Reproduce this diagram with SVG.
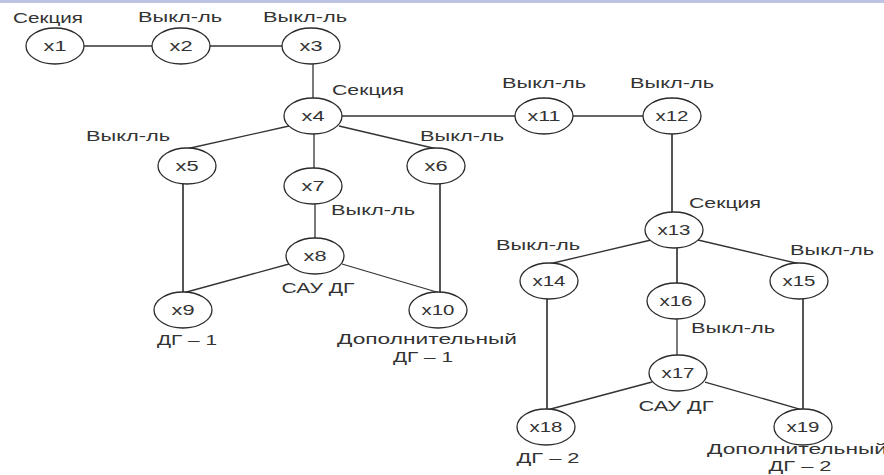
<svg xmlns="http://www.w3.org/2000/svg" width="884" height="475" viewBox="0 0 884 475">
  <style>
    text { font-family: "Liberation Sans", Arial, sans-serif; font-size: 14px; fill: #333; text-anchor: middle; }
    .node ellipse { fill: #fff; stroke: #2b2b2b; stroke-width: 1.3; }
    .wire { stroke: #333; stroke-width: 1.3; fill: none; }
    .bus { stroke: #555; stroke-width: 2; fill: none; }
  </style>
  <rect x="0" y="0" width="884" height="475" fill="#fff"/>
  <rect x="0" y="0" width="884" height="3" fill="#bfc3e3"/>

  <g id="connectors">
    <line class="wire" x1="84" y1="46" x2="152" y2="46"/>
    <line class="wire" x1="210" y1="46" x2="282" y2="46"/>
    <line class="wire" x1="313" y1="64" x2="313" y2="98"/>
    <line class="wire" x1="342" y1="116" x2="515" y2="116"/>
    <line class="wire" x1="573" y1="116" x2="643" y2="116"/>
    <line class="wire" x1="289" y1="126" x2="186" y2="149"/>
    <line class="wire" x1="339" y1="126" x2="437" y2="149"/>
    <line class="wire" x1="314" y1="134" x2="314" y2="168"/>
    <line class="wire" x1="315" y1="204" x2="315" y2="238"/>
    <line class="bus" x1="183" y1="183" x2="183" y2="293"/>
    <line class="bus" x1="440" y1="183" x2="440" y2="293"/>
    <line class="wire" x1="289" y1="264" x2="183" y2="293"/>
    <line class="wire" x1="342" y1="264" x2="440" y2="293"/>
    <line class="bus" x1="672" y1="134" x2="672" y2="212"/>
    <line class="wire" x1="651" y1="240" x2="549" y2="264"/>
    <line class="wire" x1="698" y1="240" x2="800" y2="264"/>
    <line class="bus" x1="677" y1="248" x2="677" y2="284"/>
    <line class="wire" x1="677" y1="319" x2="677" y2="356"/>
    <line class="bus" x1="547" y1="299" x2="547" y2="410"/>
    <line class="bus" x1="803" y1="299" x2="803" y2="410"/>
    <line class="wire" x1="652" y1="382" x2="547" y2="410"/>
    <line class="wire" x1="705" y1="382" x2="803" y2="410"/>
  </g>

  <g id="n1" class="node"><ellipse cx="55" cy="46" rx="29" ry="18"/><text x="55" y="51" textLength="23" lengthAdjust="spacingAndGlyphs">x1</text><text x="48" y="23" textLength="70" lengthAdjust="spacingAndGlyphs">Секция</text></g>
  <g id="n2" class="node"><ellipse cx="181" cy="46" rx="29" ry="18"/><text x="181" y="51" textLength="23" lengthAdjust="spacingAndGlyphs">x2</text><text x="180" y="22" textLength="84" lengthAdjust="spacingAndGlyphs">Выкл-ль</text></g>
  <g id="n3" class="node"><ellipse cx="311" cy="46" rx="29" ry="18"/><text x="311" y="51" textLength="23" lengthAdjust="spacingAndGlyphs">x3</text><text x="305" y="22" textLength="84" lengthAdjust="spacingAndGlyphs">Выкл-ль</text></g>
  <g id="n4" class="node"><ellipse cx="313" cy="116" rx="29" ry="18"/><text x="313" y="121" textLength="23" lengthAdjust="spacingAndGlyphs">x4</text><text x="368" y="95" textLength="72" lengthAdjust="spacingAndGlyphs">Секция</text></g>
  <g id="n5" class="node"><ellipse cx="187" cy="166" rx="29" ry="18"/><text x="187" y="171" textLength="23" lengthAdjust="spacingAndGlyphs">x5</text><text x="128" y="141" textLength="84" lengthAdjust="spacingAndGlyphs">Выкл-ль</text></g>
  <g id="n6" class="node"><ellipse cx="436" cy="166" rx="29" ry="18"/><text x="436" y="171" textLength="23" lengthAdjust="spacingAndGlyphs">x6</text><text x="462" y="141" textLength="84" lengthAdjust="spacingAndGlyphs">Выкл-ль</text></g>
  <g id="n7" class="node"><ellipse cx="313" cy="186" rx="29" ry="18"/><text x="313" y="191" textLength="23" lengthAdjust="spacingAndGlyphs">x7</text><text x="373" y="215" textLength="84" lengthAdjust="spacingAndGlyphs">Выкл-ль</text></g>
  <g id="n8" class="node"><ellipse cx="315" cy="256" rx="29" ry="18"/><text x="315" y="261" textLength="23" lengthAdjust="spacingAndGlyphs">x8</text><text x="318" y="293" textLength="73" lengthAdjust="spacingAndGlyphs">САУ ДГ</text></g>
  <g id="n9" class="node"><ellipse cx="183" cy="310" rx="29" ry="18"/><text x="183" y="315" textLength="23" lengthAdjust="spacingAndGlyphs">x9</text><text x="187" y="345" textLength="60" lengthAdjust="spacingAndGlyphs">ДГ – 1</text></g>
  <g id="n10" class="node"><ellipse cx="438" cy="310" rx="29" ry="18"/><text x="438" y="315" textLength="33" lengthAdjust="spacingAndGlyphs">x10</text><text x="427" y="344" textLength="180" lengthAdjust="spacingAndGlyphs">Дополнительный</text><text x="423" y="362" textLength="60" lengthAdjust="spacingAndGlyphs">ДГ – 1</text></g>
  <g id="n11" class="node"><ellipse cx="544" cy="116" rx="29" ry="18"/><text x="544" y="121" textLength="33" lengthAdjust="spacingAndGlyphs">x11</text><text x="544" y="88" textLength="84" lengthAdjust="spacingAndGlyphs">Выкл-ль</text></g>
  <g id="n12" class="node"><ellipse cx="672" cy="116" rx="29" ry="18"/><text x="672" y="121" textLength="33" lengthAdjust="spacingAndGlyphs">x12</text><text x="672" y="88" textLength="84" lengthAdjust="spacingAndGlyphs">Выкл-ль</text></g>
  <g id="n13" class="node"><ellipse cx="674" cy="230" rx="29" ry="18"/><text x="674" y="235" textLength="33" lengthAdjust="spacingAndGlyphs">x13</text><text x="725" y="208" textLength="72" lengthAdjust="spacingAndGlyphs">Секция</text></g>
  <g id="n14" class="node"><ellipse cx="549" cy="281" rx="29" ry="18"/><text x="549" y="286" textLength="33" lengthAdjust="spacingAndGlyphs">x14</text><text x="538" y="250" textLength="84" lengthAdjust="spacingAndGlyphs">Выкл-ль</text></g>
  <g id="n15" class="node"><ellipse cx="799" cy="281" rx="29" ry="18"/><text x="799" y="286" textLength="33" lengthAdjust="spacingAndGlyphs">x15</text><text x="832" y="255" textLength="84" lengthAdjust="spacingAndGlyphs">Выкл-ль</text></g>
  <g id="n16" class="node"><ellipse cx="676" cy="301" rx="29" ry="18"/><text x="676" y="306" textLength="33" lengthAdjust="spacingAndGlyphs">x16</text><text x="733" y="333" textLength="84" lengthAdjust="spacingAndGlyphs">Выкл-ль</text></g>
  <g id="n17" class="node"><ellipse cx="678" cy="373" rx="29" ry="18"/><text x="678" y="378" textLength="33" lengthAdjust="spacingAndGlyphs">x17</text><text x="676" y="411" textLength="75" lengthAdjust="spacingAndGlyphs">САУ ДГ</text></g>
  <g id="n18" class="node"><ellipse cx="546" cy="427" rx="29" ry="18"/><text x="546" y="432" textLength="33" lengthAdjust="spacingAndGlyphs">x18</text><text x="548" y="463" textLength="63" lengthAdjust="spacingAndGlyphs">ДГ – 2</text></g>
  <g id="n19" class="node"><ellipse cx="803" cy="427" rx="29" ry="18"/><text x="803" y="432" textLength="33" lengthAdjust="spacingAndGlyphs">x19</text><text x="797" y="454" textLength="180" lengthAdjust="spacingAndGlyphs">Дополнительный</text><text x="800" y="471" textLength="63" lengthAdjust="spacingAndGlyphs">ДГ – 2</text></g>
</svg>
